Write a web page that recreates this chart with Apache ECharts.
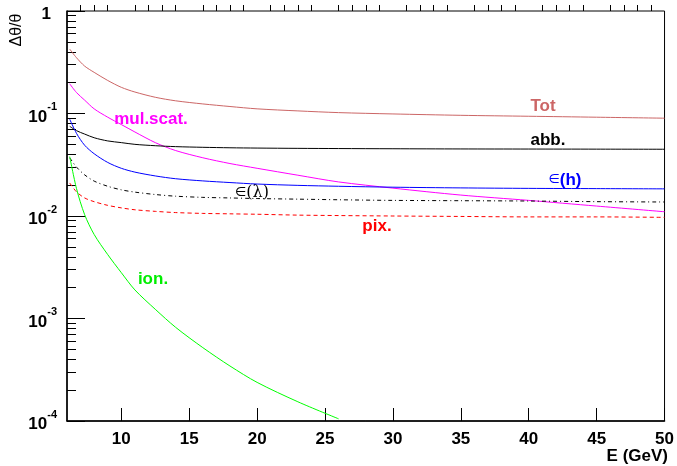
<!DOCTYPE html>
<html><head><meta charset="utf-8">
<script src="https://cdn.jsdelivr.net/npm/echarts@6/dist/echarts.min.js"></script>
<style>html,body{margin:0;padding:0;background:#fff}#c{width:677px;height:466px}</style>
</head><body><div id="c"></div>
<script>
// Energy grid (GeV)
const energy = [6.2, 6.7, 7.3, 8, 9, 10, 11, 12.5, 14, 16, 18, 20, 23, 26, 30, 35, 40, 45, 50];
// Resolution components (Δθ/θ)
const tot     = [0.425, 0.35, 0.29, 0.252, 0.21, 0.18, 0.162, 0.144, 0.133, 0.124, 0.117, 0.111, 0.106, 0.102, 0.099, 0.096, 0.094, 0.092, 0.090];
const mulScat = [0.195, 0.16, 0.135, 0.111, 0.092, 0.078, 0.066, 0.052, 0.0435, 0.037, 0.0325, 0.0292, 0.025, 0.0215, 0.0187, 0.016, 0.0142, 0.0125, 0.011];
const abb     = [0.075, 0.068, 0.063, 0.058, 0.054, 0.052, 0.050, 0.0485, 0.0475, 0.0468, 0.0463, 0.046, 0.0457, 0.0455, 0.0453, 0.0451, 0.045, 0.0449, 0.0448];
const epsH    = [0.088, 0.064, 0.049, 0.0405, 0.0333, 0.0292, 0.0268, 0.0246, 0.0231, 0.022, 0.0212, 0.0205, 0.0199, 0.0195, 0.0191, 0.0188, 0.0186, 0.0185, 0.0184];
const epsL    = [0.037, 0.030, 0.0252, 0.0219, 0.0195, 0.018, 0.0171, 0.0162, 0.0156, 0.0152, 0.015, 0.0148, 0.0146, 0.0144, 0.0142, 0.0141, 0.014, 0.0138, 0.0137];
const pix     = [0.021, 0.0172, 0.015, 0.0138, 0.0127, 0.012, 0.0115, 0.0111, 0.0108, 0.0106, 0.0105, 0.0104, 0.0102, 0.0101, 0.0100, 0.0099, 0.0098, 0.0098, 0.0097];
const ion     = [0.038, 0.0185, 0.0103, 0.0066, 0.0042, 0.0028, 0.0019, 0.00123, 0.00082, 0.00052, 0.000344, 0.000238, 0.000154, 0.000105];

// Ticks
const xMajorTicks = [10, 15, 20, 25, 30, 35, 40, 45, 50];
const xMinorTicks = [7, 8, 9, 11, 12, 13, 14, 16, 17, 18, 19, 21, 22, 23, 24, 26, 27, 28, 29, 31, 32, 33, 34, 36, 37, 38, 39, 41, 42, 43, 44, 46, 47, 48, 49];
const yMinorTicks = [2e-4, 3e-4, 4e-4, 5e-4, 6e-4, 7e-4, 8e-4, 9e-4,
                     2e-3, 3e-3, 4e-3, 5e-3, 6e-3, 7e-3, 8e-3, 9e-3,
                     2e-2, 3e-2, 4e-2, 5e-2, 6e-2, 7e-2, 8e-2, 9e-2,
                     2e-1, 3e-1, 4e-1, 5e-1, 6e-1, 7e-1, 8e-1, 9e-1];

const pairs = (vals) => vals.map((v, i) => [energy[i], v]);
const FONT = '"Liberation Sans", Arial, sans-serif';

const chart = echarts.init(document.getElementById('c'), null, {renderer: 'canvas'});

function line(name, vals, color, type) {
  return {
    name, type: 'line', xAxisIndex: 0, yAxisIndex: 0,
    data: pairs(vals), showSymbol: false, symbol: 'none',
    smooth: 0.3, clip: true, animation: false,
    lineStyle: {color, width: 1, type: type || 'solid'}
  };
}

const option = {
  animation: false,
  backgroundColor: '#fff',
  grid: {left: 67, right: 7, top: 11, bottom: 45, containLabel: false,
         show: true, borderColor: '#000', borderWidth: 1, backgroundColor: 'transparent'},
  xAxis: [
    {type: 'value', min: 6, max: 50, position: 'bottom',
     axisLine: {show: true, onZero: false, lineStyle: {color: '#000', width: 1.5}},
     axisTick: {show: true, inside: true, length: 13, customValues: xMajorTicks, lineStyle: {color: '#000', width: 1}},
     axisLabel: {show: true, customValues: xMajorTicks, margin: 10, color: '#000',
                 fontFamily: FONT, fontWeight: 'bold', fontSize: 17},
     splitLine: {show: false}},
    {type: 'value', min: 6, max: 50, position: 'bottom',
     axisLine: {show: false},
     axisTick: {show: true, inside: true, length: 6, customValues: xMinorTicks, lineStyle: {color: '#000', width: 1}},
     axisLabel: {show: false}, splitLine: {show: false}}
  ],
  yAxis: [
    {type: 'log', logBase: 10, min: 1e-4, max: 1, splitNumber: 4, position: 'left',
     axisLine: {show: true, onZero: false, lineStyle: {color: '#000', width: 1.5}},
     axisTick: {show: true, inside: true, length: 18, lineStyle: {color: '#000', width: 1}},
     axisLabel: {show: true, margin: 10, color: '#000',
       formatter: function (v) {
         const e = Math.round(Math.log10(v));
         if (e === 0) return '{one|1}';
         return '{b|10}{s|' + e + '}';
       },
       rich: {
         one: {fontFamily: FONT, fontWeight: 'bold', fontSize: 17, color: '#000', padding: [0, 6, 0, 0], lineHeight: 24, verticalAlign: 'bottom'},
         b: {fontFamily: FONT, fontWeight: 'bold', fontSize: 17, color: '#000', lineHeight: 24, verticalAlign: 'bottom'},
         s: {fontFamily: FONT, fontWeight: 'bold', fontSize: 11, color: '#000', lineHeight: 12, verticalAlign: 'top'}
       }},
     splitLine: {show: false}, minorTick: {show: false}},
    {type: 'value', min: -4, max: 0, position: 'left',
     axisLine: {show: false},
     axisTick: {show: true, inside: true, length: 9, customValues: yMinorTicks.map(Math.log10), lineStyle: {color: '#000', width: 1}},
     axisLabel: {show: false}, splitLine: {show: false}}
  ],
  series: [
    line('Tot', tot, '#cc6666'),
    line('mul.scat.', mulScat, '#ff00ff'),
    line('abb.', abb, '#000000'),
    line('ε(h)', epsH, '#0000ff'),
    line('ε(λ)', epsL, '#000000', [4, 3, 1, 3]),
    line('pix.', pix, '#ff0000', [4, 3]),
    line('ion.', ion, '#00ff00')
  ],
  graphic: [
    {type: 'text', x: 17, y: 30, rotation: Math.PI / 2,
     style: {text: 'Δθ/θ', fontFamily: FONT, fontSize: 16, fill: '#000', align: 'center', verticalAlign: 'middle'}},
    {type: 'text', x: 668, y: 456,
     style: {text: 'E (GeV)', fontFamily: FONT, fontWeight: 'bold', fontSize: 17, fill: '#000', align: 'right', verticalAlign: 'middle'}},
    {type: 'text', x: 543, y: 106,
     style: {text: 'Tot', fontFamily: FONT, fontWeight: 'bold', fontSize: 17, fill: '#cc6666', align: 'center', verticalAlign: 'middle'}},
    {type: 'text', x: 151, y: 119,
     style: {text: 'mul.scat.', fontFamily: FONT, fontWeight: 'bold', fontSize: 17, fill: '#ff00ff', align: 'center', verticalAlign: 'middle'}},
    {type: 'text', x: 548, y: 140,
     style: {text: 'abb.', fontFamily: FONT, fontWeight: 'bold', fontSize: 17, fill: '#000', align: 'center', verticalAlign: 'middle'}},
    {type: 'text', x: 565, y: 180,
     style: {text: '{a|∈}{b|(h)}', align: 'center', verticalAlign: 'middle',
       rich: {a: {fontFamily: '"DejaVu Sans", sans-serif', fontSize: 13, fill: '#0000ff', color: '#0000ff'},
              b: {fontFamily: FONT, fontWeight: 'bold', fontSize: 17, fill: '#0000ff', color: '#0000ff'}}}},
    {type: 'text', x: 252, y: 193,
     style: {text: '{a|∈}{b|(λ)}', align: 'center', verticalAlign: 'middle',
       rich: {a: {fontFamily: '"DejaVu Sans", sans-serif', fontSize: 13, fill: '#000', color: '#000'},
              b: {fontFamily: '"DejaVu Serif", serif', fontSize: 16, fill: '#000', color: '#000'}}}},
    {type: 'text', x: 377, y: 226,
     style: {text: 'pix.', fontFamily: FONT, fontWeight: 'bold', fontSize: 17, fill: '#ff0000', align: 'center', verticalAlign: 'middle'}},
    {type: 'text', x: 153, y: 279,
     style: {text: 'ion.', fontFamily: FONT, fontWeight: 'bold', fontSize: 17, fill: '#00ee00', align: 'center', verticalAlign: 'middle'}}
  ]
};
chart.setOption(option);
</script>
</body></html>
